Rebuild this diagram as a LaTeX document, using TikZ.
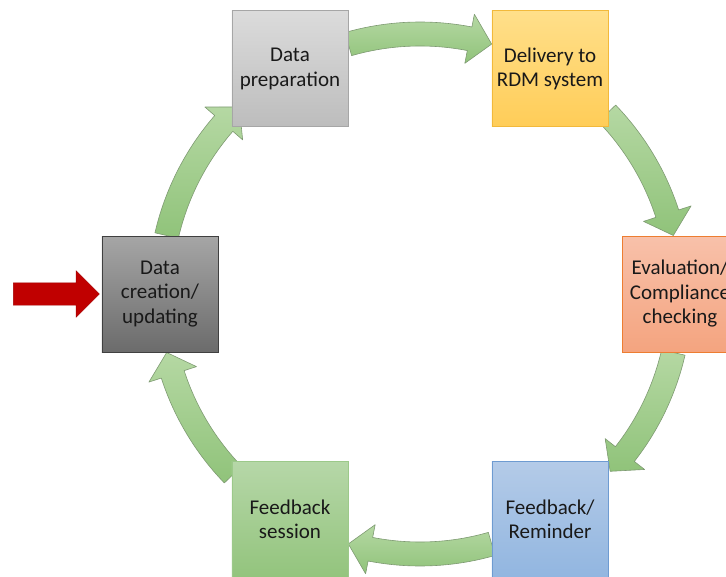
\documentclass[tikz,border=0pt]{standalone}
\usepackage{fontspec}
\setmainfont{Carlito}
\usetikzlibrary{shapes.arrows,positioning}

\definecolor{loopLight}{HTML}{B5D8A3}
\definecolor{loopDark}{HTML}{90C37A}
\definecolor{loopEdge}{HTML}{7E9A72}
\definecolor{entryRed}{HTML}{C00000}

\tikzset{
  stage/.style={draw, minimum size=116pt, inner sep=0pt, align=center,
    font=\fontsize{21}{24.5}\selectfont, text=black!90, line width=0.8pt},
  greybox/.style={stage, top color=black!14, bottom color=black!26, draw=black!35},
  darkbox/.style={stage, top color=black!35, bottom color=black!58, draw=black!75},
  yellowbox/.style={stage, top color={rgb,255:red,255;green,223;blue,138}, bottom color={rgb,255:red,255;green,205;blue,88}, draw={rgb,255:red,242;green,185;blue,59}},
  orangebox/.style={stage, top color={rgb,255:red,248;green,193;blue,170}, bottom color={rgb,255:red,244;green,164;blue,127}, draw={rgb,255:red,237;green,125;blue,49}},
  bluebox/.style={stage, top color={rgb,255:red,180;green,203;blue,232}, bottom color={rgb,255:red,146;green,182;blue,224}, draw={rgb,255:red,110;green,155;blue,209}},
  greenbox/.style={stage, top color={rgb,255:red,182;green,215;blue,168}, bottom color={rgb,255:red,147;green,196;blue,125}, draw={rgb,255:red,156;green,201;blue,138}},
  loopshade/.style={top color=loopLight, bottom color=loopDark, draw=loopEdge, line width=0.6pt, line join=round},
  entry/.style={single arrow, fill=entryRed, draw=entryRed!85!black, minimum height=86pt,
    inner sep=11pt, single arrow head extend=12pt, single arrow head indent=0pt}
}

\begin{document}
\begin{tikzpicture}[x=1pt,y=1pt]
  \useasboundingbox (-420,-282) rectangle (306,294);
  % curved arrows round the cycle (start angle / tip angle)
  \foreach \s/\t in {167/134, 106/74, 44/13, -13/-43, -74/-106, -136/-167}{
    \path[loopshade] (\s:272) arc[start angle=\s, end angle=\t+5, radius=272]
      -- ({\t+5}:285) -- (\t:260) -- ({\t+5}:235) -- ({\t+5}:248)
      arc[start angle=\t+5, end angle=\s, radius=248] -- cycle;
  }
  % stages
  \node[darkbox] (create) at (180:260) {Data\\creation/\\updating};
  \node[greybox] (prep) at (120:260) {Data\\preparation};
  \node[yellowbox] (deliver) at (60:260) {Delivery to\\RDM system};
  \node[orangebox] (eval) at (0:260) {Evaluation/\\Compliance\\checking};
  \node[bluebox] (remind) at (-60:260) {Feedback/\\Reminder};
  \node[greenbox] (session) at (-120:260) {Feedback\\session};
  % entry point
  \node[entry, anchor=tip] (start) at ([xshift=-2pt]create.west) {};
\end{tikzpicture}
\end{document}
